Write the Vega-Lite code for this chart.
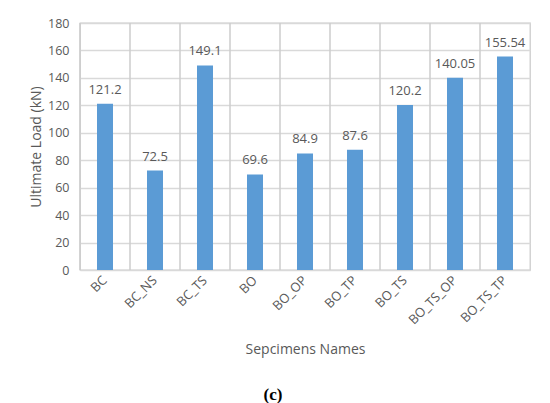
{
  "$schema": "https://vega.github.io/schema/vega-lite/v6.json",
  "width": 450,
  "height": 247,
  "autosize": {"type": "none"},
  "padding": {"left": 80, "top": 23, "right": 20, "bottom": 133},
  "background": "white",
  "title": {
    "text": "(c)",
    "orient": "bottom",
    "frame": "group",
    "anchor": "middle",
    "dx": -32,
    "offset": 30,
    "font": "Liberation Serif",
    "fontSize": 17,
    "fontWeight": "bold",
    "color": "#000000"
  },
  "data": {
    "values": [
      {"name": "BC", "load": 121.2, "label": "121.2"},
      {"name": "BC_NS", "load": 72.5, "label": "72.5"},
      {"name": "BC_TS", "load": 149.1, "label": "149.1"},
      {"name": "BO", "load": 69.6, "label": "69.6"},
      {"name": "BO_OP", "load": 84.9, "label": "84.9"},
      {"name": "BO_TP", "load": 87.6, "label": "87.6"},
      {"name": "BO_TS", "load": 120.2, "label": "120.2"},
      {"name": "BO_TS_OP", "load": 140.05, "label": "140.05"},
      {"name": "BO_TS_TP", "load": 155.54, "label": "155.54"}
    ]
  },
  "encoding": {
    "x": {
      "field": "name",
      "type": "nominal",
      "sort": null,
      "scale": {"paddingInner": 0, "paddingOuter": 0},
      "axis": {
        "title": "Sepcimens Names",
        "labelAngle": -45,
        "labelAlign": "right",
        "labelBaseline": "middle",
        "labelPadding": 8,
        "labelFontSize": 13,
        "grid": false,
        "ticks": false,
        "domainColor": "#D9D9D9",
        "titlePadding": 16,
        "titleFontSize": 14
      }
    },
    "y": {
      "field": "load",
      "type": "quantitative",
      "scale": {"domain": [0, 180]},
      "axis": {
        "title": "Ultimate Load (kN)",
        "values": [0, 20, 40, 60, 80, 100, 120, 140, 160, 180],
        "domain": false,
        "ticks": false,
        "labelPadding": 11,
        "titlePadding": 4,
        "titleFontSize": 14,
        "gridWidth": 1.3
      }
    }
  },
  "layer": [
    {
      "mark": {"type": "rule", "color": "#CCCCCC", "strokeWidth": 1.5},
      "encoding": {"x": {"field": "name", "type": "nominal", "sort": null, "bandPosition": 0}, "y": {"datum": 0}, "y2": {"datum": 180}}
    },
    {"mark": {"type": "bar", "width": {"band": 0.32}, "color": "#5B9BD5"}},
    {
      "mark": {"type": "text", "baseline": "bottom", "dy": -7, "fontSize": 13, "color": "#595959", "font": "Open Sans"},
      "encoding": {"text": {"field": "label", "type": "nominal"}}
    }
  ],
  "config": {
    "font": "Open Sans",
    "view": {"stroke": "#CCCCCC", "strokeWidth": 1.3},
    "axis": {
      "labelColor": "#595959",
      "titleColor": "#595959",
      "labelFontSize": 12.5,
      "titleFontWeight": "normal",
      "gridColor": "#D9D9D9",
      "labelFont": "Open Sans",
      "titleFont": "Open Sans"
    }
  }
}
